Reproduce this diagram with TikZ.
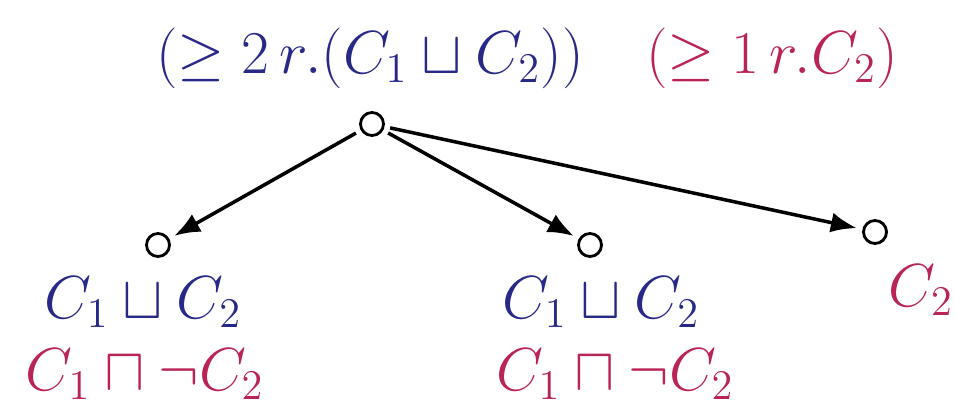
\documentclass[tikz,border=0pt]{standalone}
\usepackage{amsmath}
\usetikzlibrary{arrows.meta}
\definecolor{conblue}{RGB}{40,40,135}
\definecolor{conred}{RGB}{185,35,85}
\begin{document}
\begin{tikzpicture}[x=0.01cm,y=-0.01cm,font=\fontsize{18.5}{22}\selectfont,
  ind/.style={circle,draw,line width=0.8pt,minimum size=0.23cm,inner sep=0pt,outer sep=0.07cm},
  edge/.style={-{Latex[length=0.26cm,width=0.2cm]},line width=1pt}]
\useasboundingbox (0,0) rectangle (955,406);
% individuals
\node[ind] (x) at (372,124) {};
\node[ind] (y1) at (158,245) {};
\node[ind] (y2) at (590,245) {};
\node[ind] (y3) at (875,232) {};
% labels of the root
\node[text=conblue] (lx1) at (370,58) {$(\geq 2\,r.(C_1 \sqcup C_2))$};
\node[text=conred] (lx2) at (772,58) {$(\geq 1\,r.C_2)$};
% labels of the successors
\node[text=conblue] (ly1a) at (143,302) {$C_1 \sqcup C_2$};
\node[text=conred] (ly1b) at (145,374) {$C_1 \sqcap \neg C_2$};
\node[text=conblue] (ly2a) at (601,302) {$C_1 \sqcup C_2$};
\node[text=conred] (ly2b) at (615,374) {$C_1 \sqcap \neg C_2$};
\node[text=conred] (ly3) at (921,290) {$C_2$};
% edges
\draw[edge] (x) -- (y1);
\draw[edge] (x) -- (y2);
\draw[edge] (x) -- (y3);
\end{tikzpicture}
\end{document}
